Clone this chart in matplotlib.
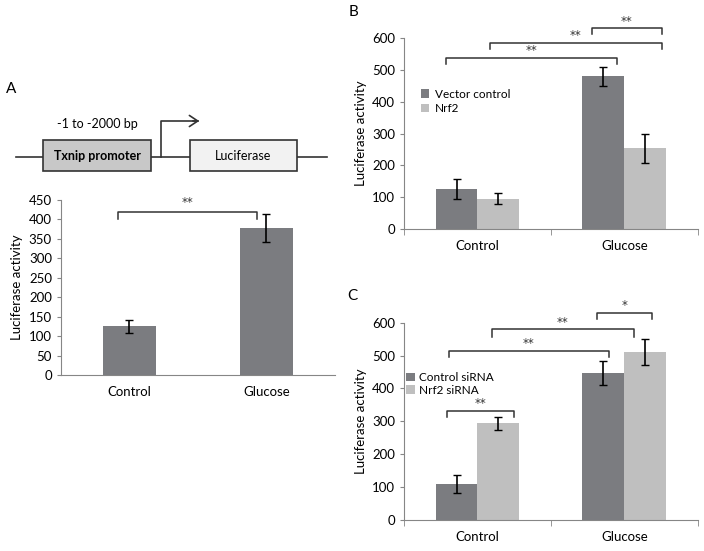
import matplotlib.pyplot as plt
from matplotlib.patches import Rectangle, FancyArrowPatch
import numpy as np

plt.rcParams['font.family'] = ['Lato', 'DejaVu Sans']

# data
categories = ['Control', 'Glucose']

a_values = [125, 378]
a_errors = [17, 35]

b_series = ['Vector control', 'Nrf2']
b_vector = [125, 480]
b_vector_err = [31, 30]
b_nrf2 = [95, 253]
b_nrf2_err = [18, 45]

c_series = ['Control siRNA', 'Nrf2 siRNA']
c_ctrl = [109, 447]
c_ctrl_err = [27, 36]
c_nrf2 = [294, 512]
c_nrf2_err = [20, 40]

dark = '#7b7c80'
light = '#bfbfbf'
axcol = '#868686'

fig = plt.figure(figsize=(7.04, 5.51), dpi=100)


def style(ax, ymax, step, divider=True):
    for s in ['top', 'right']:
        ax.spines[s].set_visible(False)
    for s in ['left', 'bottom']:
        ax.spines[s].set_color(axcol)
    ax.set_ylim(0, ymax)
    ax.set_yticks(np.arange(0, ymax + 1, step))
    ax.set_xlim(-0.5, 1.5)
    ax.set_xticks([0, 1])
    ax.set_xticklabels(categories, fontsize=9.5)
    ax.tick_params(axis='y', labelsize=9.5, color=axcol, length=3)
    ax.tick_params(axis='x', length=0, pad=8)
    if divider:
        ax.set_xticks([-0.5, 0.5, 1.5], minor=True)
        ax.tick_params(axis='x', which='minor', length=4, color=axcol)
    ax.set_ylabel('Luciferase activity', fontsize=9.5)


def bracket(ax, x1, x2, y, h, label, off=5):
    ax.plot([x1, x1, x2, x2], [y - h, y, y, y - h], color='#333333', lw=1.1, clip_on=False)
    ax.annotate(label, ((x1 + x2) / 2, y), xytext=(0, off), textcoords='offset points',
                ha='center', va='center', fontsize=8.5, family='DejaVu Sans', color='#333333',
                annotation_clip=False)


# ---- panel A bar chart
axA = fig.add_axes([0.0866, 0.3194, 0.389, 0.3176])
axA.bar([0, 1], a_values, width=0.39, color=dark)
axA.errorbar([0, 1], a_values, yerr=a_errors, fmt='none', ecolor='black', capsize=3, lw=1.2)
style(axA, 450, 50, divider=False)
bracket(axA, -0.08, 0.93, 419, 18, '**', off=7)

# ---- panel B
w = 0.285
axB = fig.add_axes([0.574, 0.5844, 0.417, 0.3466])
x = np.arange(2)
axB.bar(x - w / 2, b_vector, width=w, color=dark, label=b_series[0])
axB.bar(x + w / 2, b_nrf2, width=w, color=light, label=b_series[1])
axB.errorbar(x - w / 2, b_vector, yerr=b_vector_err, fmt='none', ecolor='black', capsize=3, lw=1.2)
axB.errorbar(x + w / 2, b_nrf2, yerr=b_nrf2_err, fmt='none', ecolor='black', capsize=3, lw=1.2)
style(axB, 600, 100)
bracket(axB, -0.214, 0.949, 538, 21, '**')
bracket(axB, 0.085, 1.255, 585, 20, '**')
bracket(axB, 0.779, 1.255, 631, 17, '**')
axB.legend(loc='upper left', bbox_to_anchor=(0.02, 0.79), frameon=False, fontsize=8.5,
           handlelength=0.7, handleheight=0.7, handletextpad=0.5, labelspacing=0.3)

# ---- panel C
axC = fig.add_axes([0.574, 0.0563, 0.417, 0.358])
axC.bar(x - w / 2, c_ctrl, width=w, color=dark, label=c_series[0])
axC.bar(x + w / 2, c_nrf2, width=w, color=light, label=c_series[1])
axC.errorbar(x - w / 2, c_ctrl, yerr=c_ctrl_err, fmt='none', ecolor='black', capsize=3, lw=1.2)
axC.errorbar(x + w / 2, c_nrf2, yerr=c_nrf2_err, fmt='none', ecolor='black', capsize=3, lw=1.2)
style(axC, 600, 100)
bracket(axC, -0.208, 0.248, 332, 18, '**')
bracket(axC, -0.194, 0.895, 515, 18, '**')
bracket(axC, 0.099, 1.065, 580, 23, '**')
bracket(axC, 0.813, 1.187, 631, 21, '*')
axC.legend(loc='upper left', bbox_to_anchor=(-0.02, 0.79), frameon=False, fontsize=8.5,
           handlelength=0.7, handleheight=0.7, handletextpad=0.4, labelspacing=0.1, borderpad=0.2)

# ---- diagram and panel letters (pixel coordinates overlay)
ov = fig.add_axes([0, 0, 1, 1], zorder=-1)
ov.set_xlim(0, 704)
ov.set_ylim(551, 0)
ov.axis('off')
ov.plot([16, 327], [157, 157], color='#333333', lw=1.2)
ov.add_patch(Rectangle((43, 140), 108, 31, facecolor='#c8c8c8', edgecolor='#333333', lw=1.2, zorder=3))
ov.add_patch(Rectangle((190, 140), 107, 31, facecolor='#f2f2f2', edgecolor='#333333', lw=1.2, zorder=3))
ov.text(97, 156, 'Txnip promoter', ha='center', va='center', fontsize=9, fontweight='bold', zorder=4)
ov.text(243, 156, 'Luciferase', ha='center', va='center', fontsize=9, zorder=4)
ov.plot([161, 161, 198], [157, 121, 121], color='#333333', lw=1.2)
ov.add_patch(FancyArrowPatch((190, 121), (202, 121), arrowstyle='->,head_length=6,head_width=4',
                             color='#333333', lw=1.2))
ov.text(97, 124, '-1 to -2000 bp', ha='center', va='center', fontsize=9)
ov.text(6, 89, 'A', ha='left', va='center', fontsize=11)
ov.text(349, 12, 'B', ha='left', va='center', fontsize=11)
ov.text(347, 296, 'C', ha='left', va='center', fontsize=11)

fig.savefig('out.png', dpi=100)
